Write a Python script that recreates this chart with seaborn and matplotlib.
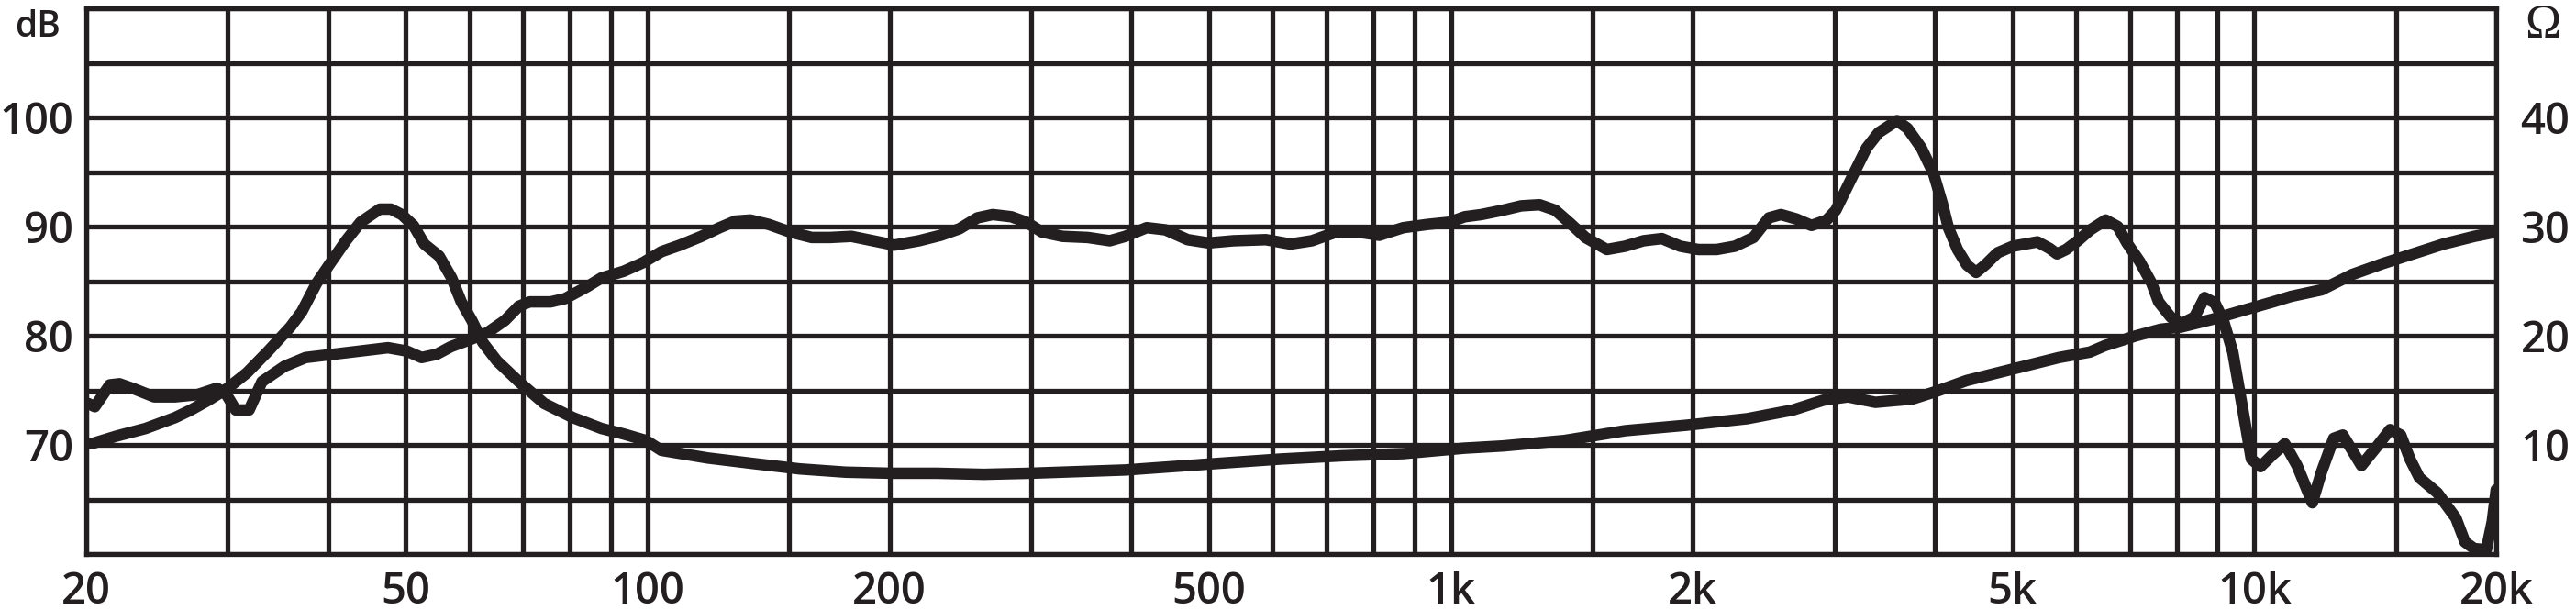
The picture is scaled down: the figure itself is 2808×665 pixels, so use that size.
import numpy as np
import pandas as pd
import matplotlib
matplotlib.use("Agg")
import matplotlib.pyplot as plt
import seaborn as sns

spl_freq = [20.1, 20.5, 21.4, 22.0, 23.0, 24.3, 25.8, 27.5, 29.1, 29.9, 30.7, 31.9,
            33.1, 35.3, 37.5, 40.6, 44.0, 47.5, 50.1, 52.3, 54.6, 56.9, 59.9, 63.2,
            66.4, 69.1, 71.3, 75.7, 78.9, 84.1, 87.6, 93.3, 98.7, 104, 109.7, 116.6,
            122.9, 128.5, 134.2, 141.4, 150.4, 160, 168.7, 179.3, 190.8, 202.8, 217.6,
            231.6, 244.4, 257.3, 268.8, 283.5, 296.1, 309.5, 328.5, 353, 376, 393, 418,
            441, 470, 499, 536, 588, 631, 671, 720, 766, 814, 872, 936, 995, 1040, 1091,
            1160, 1223, 1289, 1348, 1407, 1470, 1563, 1647, 1736, 1830, 1929, 2031, 2141,
            2256, 2379, 2487, 2574, 2690, 2810, 2935, 3013, 3150, 3290, 3405, 3590, 3700,
            3850, 3985, 4089, 4160, 4270, 4385, 4504, 4625, 4790, 5005, 5370, 5560, 5680,
            5830, 6030, 6250, 6530, 6760, 6940, 7200, 7450, 7600, 7870, 8110, 8420, 8670,
            8930, 9150, 9400, 9660, 9913, 10176, 10538, 10913, 11302, 11807, 12120,
            12553, 12887, 13593, 14191, 14755, 15213, 15622, 16045, 16900, 17817, 18290,
            18775, 19444, 19777, 20000]
spl_db = [73.8, 73.5, 75.5, 75.6, 75.1, 74.4, 74.4, 74.6, 75.2, 74.6, 73.2, 73.2,
          75.8, 77.2, 78.0, 78.3, 78.6, 78.9, 78.6, 78.0, 78.3, 79.0, 79.6, 80.3,
          81.4, 82.7, 83.1, 83.1, 83.4, 84.5, 85.3, 85.9, 86.7, 87.7, 88.3, 89.1,
          89.9, 90.5, 90.6, 90.2, 89.5, 89.0, 89.0, 89.1, 88.7, 88.3, 88.7,
          89.2, 89.8, 90.8, 91.1, 90.9, 90.4, 89.5, 89.1, 89.0, 88.7, 89.1, 89.9,
          89.7, 88.8, 88.5, 88.7, 88.8, 88.4, 88.7, 89.5, 89.5, 89.2, 89.9, 90.2, 90.4, 90.9, 91.1,
          91.5, 91.9, 92.0, 91.5, 90.3, 89.0, 87.9, 88.2, 88.7, 88.9, 88.2, 87.9, 87.9,
          88.2, 89.0, 90.8, 91.1, 90.7, 90.1, 90.6, 91.5, 94.4, 97.2, 98.6, 99.7, 99.0,
          97.2, 94.9, 92.1, 89.9, 87.9, 86.5, 85.8, 86.5, 87.6, 88.2, 88.6, 88.0, 87.5,
          87.9, 88.7, 89.7, 90.6, 90.0, 88.5, 86.8, 84.8, 83.1, 81.7, 81.1, 81.7, 83.5,
          83.0, 81.4, 78.5, 73.5, 68.7, 68.0, 69.1, 70.1, 68.1, 64.7, 67.5,
          70.6, 70.9, 68.1, 69.8, 71.4, 70.9, 68.7, 67.0, 65.6, 63.3, 61.1,
          60.5, 60.4, 63.0, 65.9]

imp_freq = [20.3, 21.8, 23.7, 25.8, 27.0, 28.4, 30, 31.7, 33.7, 35.9, 37.1, 38.7, 40.3,
            42.1, 43.9, 46.4, 47.9, 49.4, 51.1, 52.7, 55.0, 57.0, 58.6, 60.4, 62.3, 64.9,
            69.1, 74.3, 80.7, 87.6, 93.3, 99.5, 104, 118.7, 135, 154.5, 176.3, 201, 229,
            262, 299, 393, 512, 613, 733, 872, 1040, 1160, 1383, 1647, 1963, 2337, 2665,
            2909, 3120, 3375, 3752, 4018, 4385, 4790, 5230, 5710, 6240, 6520, 7130, 7650,
            8110, 8860, 9660, 10550, 11105, 12120, 13227, 14440, 15760, 17200, 18775, 20000]
imp_ohm = [10.1, 10.8, 11.5, 12.5, 13.2, 14.1, 15.2, 16.6, 18.6, 20.8, 22.2, 24.8, 26.7,
           28.7, 30.4, 31.6, 31.6, 31.1, 30.1, 28.4, 27.3, 25.3, 23.1, 21.4, 19.4, 17.7,
           15.8, 13.8, 12.5, 11.5, 11.0, 10.4, 9.5, 8.8, 8.3, 7.8, 7.5, 7.4, 7.4,
           7.3, 7.4, 7.7, 8.3, 8.7, 9.0, 9.2, 9.7, 9.9, 10.4, 11.3, 11.8, 12.4, 13.2,
           14.1, 14.4, 13.9, 14.2, 14.9, 15.9, 16.6, 17.3, 18.0, 18.5, 19.1, 20.0, 20.6,
           20.8, 21.5, 22.3, 23.1, 23.6, 24.2, 25.6, 26.6, 27.5, 28.4, 29.1, 29.5]

# Rasterlinien und Beschriftungen
grid_freqs = [20, 30, 40, 50, 60, 70, 80, 90,
              100, 150, 200, 300, 400, 500, 600, 700, 800, 900,
              1000, 1500, 2000, 3000, 4000, 5000, 6000, 7000, 8000, 9000,
              10000, 15000, 20000]
freq_labels = {20: "20", 50: "50", 100: "100", 200: "200", 500: "500",
               1000: "1k", 2000: "2k", 5000: "5k", 10000: "10k", 20000: "20k"}
db_ticks = [60, 65, 70, 75, 80, 85, 90, 95, 100, 105, 110]
db_labels = {70: "70", 80: "80", 90: "90", 100: "100"}
ohm_ticks = [10, 20, 30, 40]

df_spl = pd.DataFrame({"f": spl_freq, "dB": spl_db})
df_imp = pd.DataFrame({"f": imp_freq, "Ohm": imp_ohm})

sns.set_style("white")
plt.rcParams['font.family'] = ['Open Sans', 'DejaVu Sans']
plt.rcParams['font.weight'] = 'semibold'

ink = "#231f20"
W, H = 2808, 665
fig = plt.figure(figsize=(W / 100, H / 100), dpi=100)
x0, x1, y0, y1 = 94, 2721, 9, 604
ax = fig.add_axes([x0 / W, 1 - y1 / H, (x1 - x0) / W, (y1 - y0) / H])

sns.lineplot(data=df_spl, x="f", y="dB", ax=ax, color=ink, linewidth=9,
             solid_joinstyle="round", solid_capstyle="round", zorder=5)
ax.set_xscale("log")
ax.set_xlim(20, 20000)
ax.set_ylim(60, 110)

ax.set_xticks(grid_freqs)
ax.set_xticklabels([freq_labels.get(f, "") for f in grid_freqs])
ax.xaxis.set_minor_locator(matplotlib.ticker.NullLocator())
ax.set_yticks(db_ticks)
ax.set_yticklabels([db_labels.get(v, "") for v in db_ticks])
ax.grid(True, color=ink, linewidth=3.8)
ax.set_axisbelow(True)
for s in ax.spines.values():
    s.set_color(ink)
    s.set_linewidth(3.8)
ax.tick_params(axis="x", length=0, pad=13, labelsize=34, labelcolor=ink)
ax.tick_params(axis="y", length=0, pad=10, labelsize=34, labelcolor=ink)
ax.set_xlabel("")
ax.set_ylabel("")

ax2 = ax.twinx()
sns.lineplot(data=df_imp, x="f", y="Ohm", ax=ax2, color=ink, linewidth=9,
             solid_joinstyle="round", solid_capstyle="round")
ax2.set_ylim(0, 50)
ax2.set_yticks(ohm_ticks)
ax2.set_yticklabels([str(v) for v in ohm_ticks])
ax2.tick_params(axis="y", length=0, pad=19, labelsize=34, labelcolor=ink)
ax2.set_ylabel("")
for s in ax2.spines.values():
    s.set_visible(False)

fig.text(41 / W, 1 - 30 / H, "dB", ha="center", va="center", fontsize=28, color=ink)
fig.text(2772 / W, 1 - 28 / H, "Ω", ha="center", va="center", fontsize=38,
         color=ink, family=["Liberation Serif", "DejaVu Serif"], fontweight="normal")

fig.savefig("out.png", dpi=100)
